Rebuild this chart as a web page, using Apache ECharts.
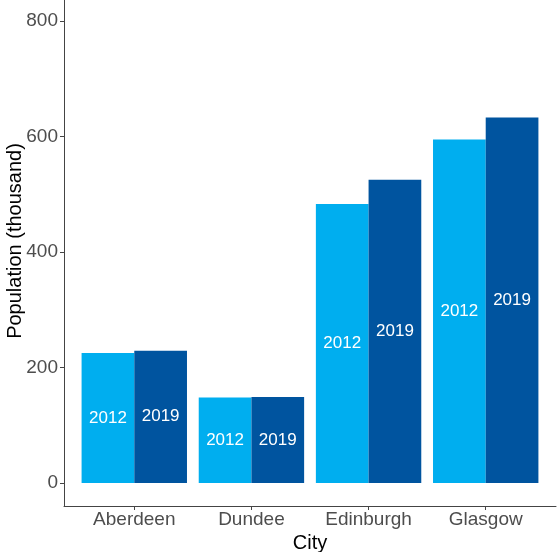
<!DOCTYPE html>
<html>
<head>
<meta charset="utf-8">
<script src="https://cdn.jsdelivr.net/npm/echarts@6/dist/echarts.min.js"></script>
<style>
html,body{margin:0;padding:0;background:#fff;}
#chart{width:558px;height:552px;}
</style>
</head>
<body>
<div id="chart"></div>
<script>
const cities = ['Aberdeen', 'Dundee', 'Edinburgh', 'Glasgow'];
const years = ['2012', '2019'];
const pop2012 = [225, 148, 483, 595];
const pop2019 = [229, 149, 525, 633];
const yTicks = [0, 200, 400, 600, 800];
const xTicks = [1, 2, 3, 4];
const xTitle = 'City';
const yTitle = 'Population (thousand)';

const FONT = "'Liberation Sans', Arial, Helvetica, sans-serif";
const chart = echarts.init(document.getElementById('chart'), null, {renderer: 'canvas'});

function mk(vals) { return vals.map((v, i) => [i + 1, v]); }

const labelStyle = {
  show: true, position: 'inside', formatter: '{a}',
  color: '#ffffff', fontSize: 17, fontFamily: FONT
};

chart.setOption({
  animation: false,
  backgroundColor: '#ffffff',
  grid: {left: 64, right: 2, top: -2, bottom: 46, containLabel: false, outerBoundsMode: 'none'},
  graphic: [{
    type: 'text', x: 15, y: 241, rotation: Math.PI / 2, silent: true,
    style: {text: yTitle, fill: '#000', fontSize: 20, fontFamily: FONT, align: 'center', verticalAlign: 'middle'}
  }],
  xAxis: {
    type: 'value', min: 0.4, max: 4.6,
    name: xTitle, nameLocation: 'middle', nameGap: 24,
    nameTextStyle: {color: '#000', fontSize: 20, fontFamily: FONT},
    axisLine: {show: true, onZero: false, lineStyle: {color: '#444', width: 1}},
    axisTick: {show: true, length: 4, customValues: xTicks, lineStyle: {color: '#444'}},
    axisLabel: {
      customValues: xTicks, margin: 4, color: '#4d4d4d', fontSize: 19, fontFamily: FONT,
      formatter: v => cities[Math.round(v) - 1]
    },
    splitLine: {show: false}
  },
  yAxis: {
    type: 'value', min: -40, max: 840,
    axisLine: {show: true, onZero: false, lineStyle: {color: '#444', width: 1}},
    axisTick: {show: true, length: 4, customValues: yTicks, lineStyle: {color: '#444'}},
    axisLabel: {customValues: yTicks, margin: 6, color: '#4d4d4d', fontSize: 19, fontFamily: FONT},
    splitLine: {show: false}
  },
  series: [
    {name: years[0], type: 'bar', data: mk(pop2012), barWidth: 52.7, barGap: '0%',
     itemStyle: {color: '#00AEEF'}, label: labelStyle},
    {name: years[1], type: 'bar', data: mk(pop2019), barWidth: 52.7, barGap: '0%',
     itemStyle: {color: '#00549F'}, label: labelStyle}
  ]
});
</script>
</body>
</html>
